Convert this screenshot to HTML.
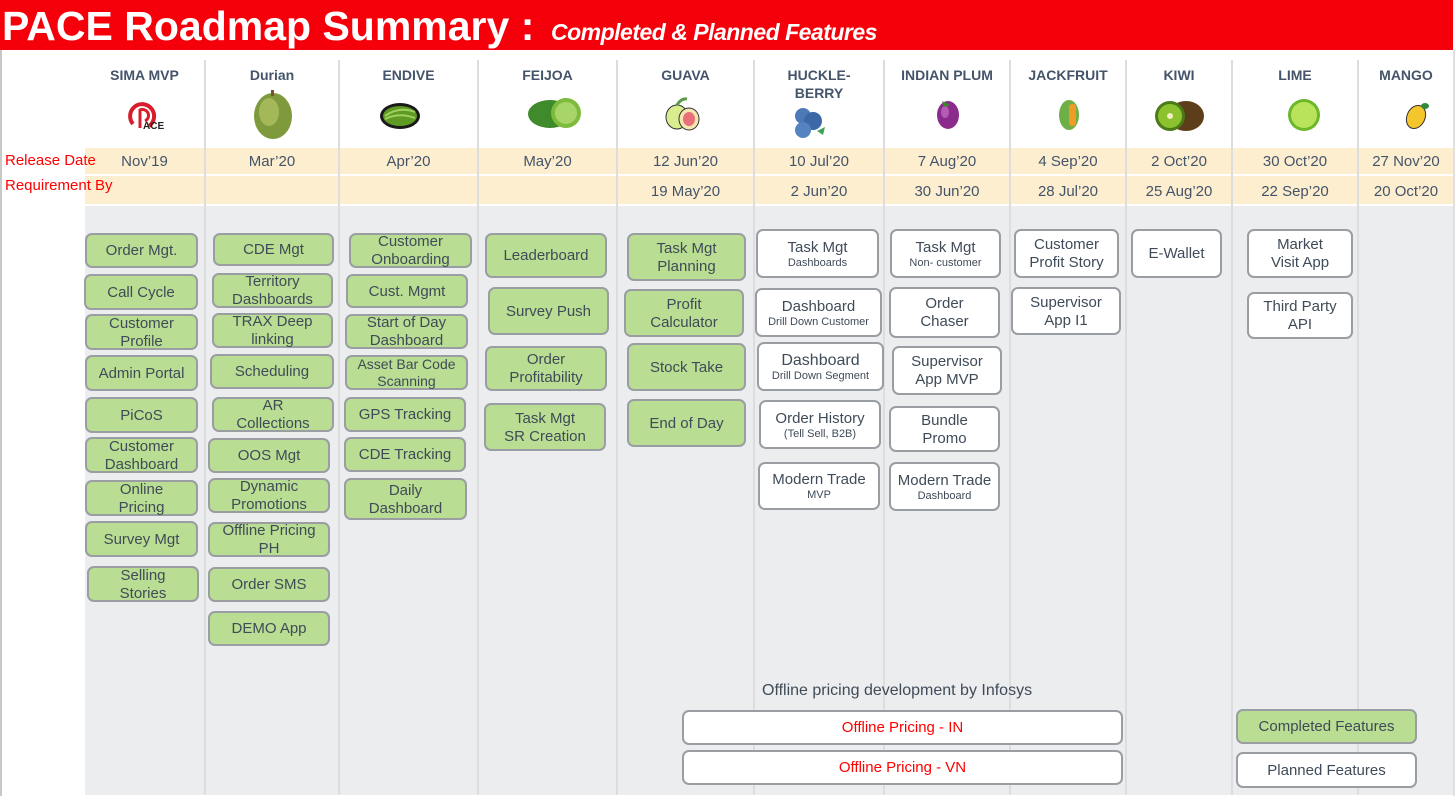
<!DOCTYPE html>
<html><head><meta charset="utf-8"><style>
*{margin:0;padding:0;box-sizing:border-box}
body{width:1456px;height:796px;position:relative;overflow:hidden;background:#fff;font-family:"Liberation Sans",Arial,sans-serif;color:#3f4b58}
.a{position:absolute}
.hdr{left:0;top:0;width:1453px;height:50px;background:#f5000a;color:#fff}
.t1{left:2px;top:3px;font-size:41px;font-weight:bold;white-space:nowrap}
.t2{left:551px;top:19px;font-size:23px;font-weight:bold;font-style:italic;white-space:nowrap;letter-spacing:-0.5px}
.body{left:85px;top:206px;width:1368px;height:589px;background:#ecedef}
.beige{background:#fdeecf;left:85px;width:1368px}
.vl{width:2px;background:#dcdddf;top:60px;height:735px}
.ch{font-size:14px;font-weight:bold;text-align:center;color:#44546a;line-height:18px}
.dt{font-size:15px;text-align:center;color:#44546a}
.lbl{color:#f00;font-size:15px;left:5px}
.b{position:absolute;border:2px solid #9a9ea3;border-radius:7px;display:flex;align-items:center;justify-content:center;text-align:center;font-size:15px;line-height:18px;color:#3f4b58;padding-top:1px}
.g{background:#b9dd92}
.w{background:#fff}
.s{font-size:11px;line-height:13px;display:block}
</style></head><body>
<div class="a hdr"></div>
<div class="a t1" style="color:#fff">PACE Roadmap Summary :</div>
<div class="a t2" style="color:#fff">Completed &amp; Planned Features</div>
<div class="a" style="left:0;top:50px;width:2px;height:746px;background:#c8c8c8"></div>
<div class="a" style="left:1453px;top:50px;width:2px;height:746px;background:#e0e0e0"></div>

<div class="a beige" style="top:148px;height:26px"></div>
<div class="a beige" style="top:176px;height:28px"></div>
<div class="a body"></div>

<div class="a vl" style="left:204px"></div>
<div class="a vl" style="left:338px"></div>
<div class="a vl" style="left:477px"></div>
<div class="a vl" style="left:616px"></div>
<div class="a vl" style="left:753px"></div>
<div class="a vl" style="left:883px"></div>
<div class="a vl" style="left:1009px"></div>
<div class="a vl" style="left:1125px"></div>
<div class="a vl" style="left:1231px"></div>
<div class="a vl" style="left:1357px"></div>

<div class="a lbl" style="top:152px">Release Date</div>
<div class="a lbl" style="top:177px">Requirement By</div>

<div class="a ch" style="left:85px;width:119px;top:66px">SIMA MVP</div>
<div class="a ch" style="left:206px;width:132px;top:66px">Durian</div>
<div class="a ch" style="left:340px;width:137px;top:66px">ENDIVE</div>
<div class="a ch" style="left:479px;width:137px;top:66px">FEIJOA</div>
<div class="a ch" style="left:618px;width:135px;top:66px">GUAVA</div>
<div class="a ch" style="left:755px;width:128px;top:66px">HUCKLE-<br>BERRY</div>
<div class="a ch" style="left:885px;width:124px;top:66px">INDIAN PLUM</div>
<div class="a ch" style="left:1011px;width:114px;top:66px">JACKFRUIT</div>
<div class="a ch" style="left:1127px;width:104px;top:66px">KIWI</div>
<div class="a ch" style="left:1233px;width:124px;top:66px">LIME</div>
<div class="a ch" style="left:1359px;width:94px;top:66px">MANGO</div>

<svg class="a" style="left:125px;top:96px" width="40" height="36"><path d="M8 28 A12 12 0 1 1 24 30" fill="none" stroke="#d81e2c" stroke-width="4"/><path d="M15 32 V14 A6 6 0 1 1 20 25" fill="none" stroke="#d81e2c" stroke-width="3"/><text x="18" y="33" font-size="10" font-weight="bold" fill="#222" font-family="Liberation Sans">ACE</text></svg>
<svg class="a" style="left:252px;top:88px" width="42" height="52"><ellipse cx="21" cy="28" rx="19" ry="23" fill="#7f9a3c"/><ellipse cx="17" cy="24" rx="10" ry="14" fill="#a4b85a"/><rect x="19" y="2" width="3" height="6" fill="#7a5030"/></svg>
<svg class="a" style="left:379px;top:102px" width="42" height="28"><ellipse cx="21" cy="14" rx="20" ry="13" fill="#1a1a1a"/><ellipse cx="21" cy="14" rx="17" ry="10" fill="#5f9a22"/><path d="M6 14 Q20 4 36 10 M6 17 Q20 10 36 16" stroke="#9fd060" stroke-width="2" fill="none"/></svg>
<svg class="a" style="left:526px;top:95px" width="58" height="36"><ellipse cx="24" cy="19" rx="22" ry="14" fill="#3f8a2a"/><circle cx="40" cy="18" r="15" fill="#7dbb3c"/><circle cx="40" cy="18" r="11" fill="#a8d56a"/></svg>
<svg class="a" style="left:665px;top:95px" width="36" height="36"><ellipse cx="12" cy="22" rx="11" ry="12" fill="#d9ec8e" stroke="#333"/><ellipse cx="24" cy="24" rx="10" ry="11" fill="#f3e6b0" stroke="#333"/><ellipse cx="24" cy="24" rx="6" ry="7" fill="#e9707a"/><path d="M12 10 Q16 3 22 4" stroke="#5a9a4a" stroke-width="3" fill="none"/></svg>
<svg class="a" style="left:791px;top:103px" width="38" height="36"><circle cx="12" cy="13" r="8" fill="#4e79b8"/><circle cx="22" cy="18" r="9" fill="#3c68a8"/><circle cx="12" cy="27" r="8" fill="#5582c0"/><path d="M26 28 l8 -4 l-2 8z" fill="#3fa355"/></svg>
<svg class="a" style="left:932px;top:95px" width="32" height="36"><ellipse cx="16" cy="20" rx="11" ry="14" fill="#8b2c8c"/><ellipse cx="13" cy="17" rx="4" ry="6" fill="#b45cb5"/><path d="M10 6 l8 4 l-6 2z" fill="#3a8a2a"/></svg>
<svg class="a" style="left:1057px;top:98px" width="24" height="34"><ellipse cx="12" cy="17" rx="10" ry="15" fill="#6fb046"/><rect x="12" y="6" width="7" height="22" rx="3" fill="#f09a28"/></svg>
<svg class="a" style="left:1150px;top:100px" width="56" height="32"><ellipse cx="36" cy="16" rx="18" ry="15" fill="#5c3f1a"/><circle cx="20" cy="16" r="15" fill="#4a7a1a"/><circle cx="20" cy="16" r="12" fill="#8cc22e"/><circle cx="20" cy="16" r="3" fill="#f2eec0"/></svg>
<svg class="a" style="left:1287px;top:98px" width="34" height="34"><circle cx="17" cy="17" r="16" fill="#6cb82a"/><circle cx="17" cy="17" r="13" fill="#b8e35a"/></svg>
<svg class="a" style="left:1404px;top:100px" width="28" height="30"><ellipse cx="12" cy="17" rx="9" ry="12" fill="#f4c62c" stroke="#333" transform="rotate(25 12 17)"/><ellipse cx="21" cy="6" rx="4" ry="3" fill="#2e8a3c"/></svg>

<div class="a dt" style="left:85px;width:119px;top:153px">Nov’19</div>
<div class="a dt" style="left:206px;width:132px;top:153px">Mar’20</div>
<div class="a dt" style="left:340px;width:137px;top:153px">Apr’20</div>
<div class="a dt" style="left:479px;width:137px;top:153px">May’20</div>
<div class="a dt" style="left:618px;width:135px;top:153px">12 Jun’20</div>
<div class="a dt" style="left:755px;width:128px;top:153px">10 Jul’20</div>
<div class="a dt" style="left:885px;width:124px;top:153px">7 Aug’20</div>
<div class="a dt" style="left:1011px;width:114px;top:153px">4 Sep’20</div>
<div class="a dt" style="left:1127px;width:104px;top:153px">2 Oct’20</div>
<div class="a dt" style="left:1233px;width:124px;top:153px">30 Oct’20</div>
<div class="a dt" style="left:1359px;width:94px;top:153px">27 Nov’20</div>
<div class="a dt" style="left:618px;width:135px;top:183px">19 May’20</div>
<div class="a dt" style="left:755px;width:128px;top:183px">2 Jun’20</div>
<div class="a dt" style="left:885px;width:124px;top:183px">30 Jun’20</div>
<div class="a dt" style="left:1011px;width:114px;top:183px">28 Jul’20</div>
<div class="a dt" style="left:1127px;width:104px;top:183px">25 Aug’20</div>
<div class="a dt" style="left:1233px;width:124px;top:183px">22 Sep’20</div>
<div class="a dt" style="left:1359px;width:94px;top:183px">20 Oct’20</div>

<div class="b g" style="left:85px;top:233px;width:113px;height:35px">Order Mgt.</div>
<div class="b g" style="left:84px;top:274px;width:114px;height:36px">Call Cycle</div>
<div class="b g" style="left:85px;top:314px;width:113px;height:36px">Customer<br>Profile</div>
<div class="b g" style="left:85px;top:355px;width:113px;height:36px">Admin Portal</div>
<div class="b g" style="left:85px;top:397px;width:113px;height:36px">PiCoS</div>
<div class="b g" style="left:85px;top:437px;width:113px;height:36px">Customer<br>Dashboard</div>
<div class="b g" style="left:85px;top:480px;width:113px;height:36px">Online<br>Pricing</div>
<div class="b g" style="left:85px;top:521px;width:113px;height:36px">Survey Mgt</div>
<div class="b g" style="left:87px;top:566px;width:112px;height:36px">Selling<br>Stories</div>
<div class="b g" style="left:213px;top:233px;width:121px;height:33px">CDE Mgt</div>
<div class="b g" style="left:212px;top:273px;width:121px;height:35px">Territory<br>Dashboards</div>
<div class="b g" style="left:212px;top:313px;width:121px;height:35px">TRAX Deep<br>linking</div>
<div class="b g" style="left:210px;top:354px;width:124px;height:35px">Scheduling</div>
<div class="b g" style="left:212px;top:397px;width:122px;height:35px">AR<br>Collections</div>
<div class="b g" style="left:208px;top:438px;width:122px;height:35px">OOS Mgt</div>
<div class="b g" style="left:208px;top:478px;width:122px;height:35px">Dynamic<br>Promotions</div>
<div class="b g" style="left:208px;top:522px;width:122px;height:35px">Offline Pricing<br>PH</div>
<div class="b g" style="left:208px;top:567px;width:122px;height:35px">Order SMS</div>
<div class="b g" style="left:208px;top:611px;width:122px;height:35px">DEMO App</div>
<div class="b g" style="left:349px;top:233px;width:123px;height:35px">Customer<br>Onboarding</div>
<div class="b g" style="left:346px;top:274px;width:122px;height:34px">Cust. Mgmt</div>
<div class="b g" style="left:345px;top:314px;width:123px;height:35px">Start of Day<br>Dashboard</div>
<div class="b g" style="left:345px;top:355px;width:123px;height:35px;font-size:14px;line-height:17px">Asset Bar Code<br>Scanning</div>
<div class="b g" style="left:344px;top:397px;width:122px;height:35px">GPS Tracking</div>
<div class="b g" style="left:344px;top:437px;width:122px;height:35px">CDE Tracking</div>
<div class="b g" style="left:344px;top:478px;width:123px;height:42px">Daily<br>Dashboard</div>
<div class="b g" style="left:485px;top:233px;width:122px;height:45px">Leaderboard</div>
<div class="b g" style="left:488px;top:287px;width:121px;height:48px">Survey Push</div>
<div class="b g" style="left:485px;top:346px;width:122px;height:45px">Order<br>Profitability</div>
<div class="b g" style="left:484px;top:403px;width:122px;height:48px">Task Mgt<br>SR Creation</div>
<div class="b g" style="left:627px;top:233px;width:119px;height:48px">Task Mgt<br>Planning</div>
<div class="b g" style="left:624px;top:289px;width:120px;height:48px">Profit<br>Calculator</div>
<div class="b g" style="left:627px;top:343px;width:119px;height:48px">Stock Take</div>
<div class="b g" style="left:627px;top:399px;width:119px;height:48px">End of Day</div>
<div class="b w" style="left:756px;top:229px;width:123px;height:49px"><div>Task Mgt<span class="s">Dashboards</span></div></div>
<div class="b w" style="left:755px;top:288px;width:127px;height:49px"><div>Dashboard<span class="s">Drill Down Customer</span></div></div>
<div class="b w" style="left:757px;top:342px;width:127px;height:49px"><div style="font-size:16px">Dashboard<span class="s">Drill Down Segment</span></div></div>
<div class="b w" style="left:759px;top:400px;width:122px;height:49px"><div>Order History<span class="s">(Tell Sell, B2B)</span></div></div>
<div class="b w" style="left:758px;top:462px;width:122px;height:48px"><div>Modern Trade<span class="s">MVP</span></div></div>
<div class="b w" style="left:890px;top:229px;width:111px;height:49px"><div>Task Mgt<span class="s">Non- customer</span></div></div>
<div class="b w" style="left:889px;top:287px;width:111px;height:51px">Order<br>Chaser</div>
<div class="b w" style="left:892px;top:346px;width:110px;height:49px">Supervisor<br>App MVP</div>
<div class="b w" style="left:889px;top:406px;width:111px;height:46px">Bundle<br>Promo</div>
<div class="b w" style="left:889px;top:462px;width:111px;height:49px"><div>Modern Trade<span class="s">Dashboard</span></div></div>
<div class="b w" style="left:1014px;top:229px;width:105px;height:49px">Customer<br>Profit Story</div>
<div class="b w" style="left:1011px;top:287px;width:110px;height:48px">Supervisor<br>App I1</div>
<div class="b w" style="left:1131px;top:229px;width:91px;height:49px">E-Wallet</div>
<div class="b w" style="left:1247px;top:229px;width:106px;height:49px">Market<br>Visit App</div>
<div class="b w" style="left:1247px;top:292px;width:106px;height:47px">Third Party<br>API</div>

<div class="a" style="left:762px;top:682px;font-size:16px;color:#3f4b58">Offline pricing development by Infosys</div>
<div class="b w" style="left:682px;top:710px;width:441px;height:35px;color:#f00">Offline Pricing - IN</div>
<div class="b w" style="left:682px;top:750px;width:441px;height:35px;color:#f00">Offline Pricing - VN</div>
<div class="b g" style="left:1236px;top:709px;width:181px;height:35px">Completed Features</div>
<div class="b w" style="left:1236px;top:752px;width:181px;height:36px">Planned Features</div>
</body></html>
